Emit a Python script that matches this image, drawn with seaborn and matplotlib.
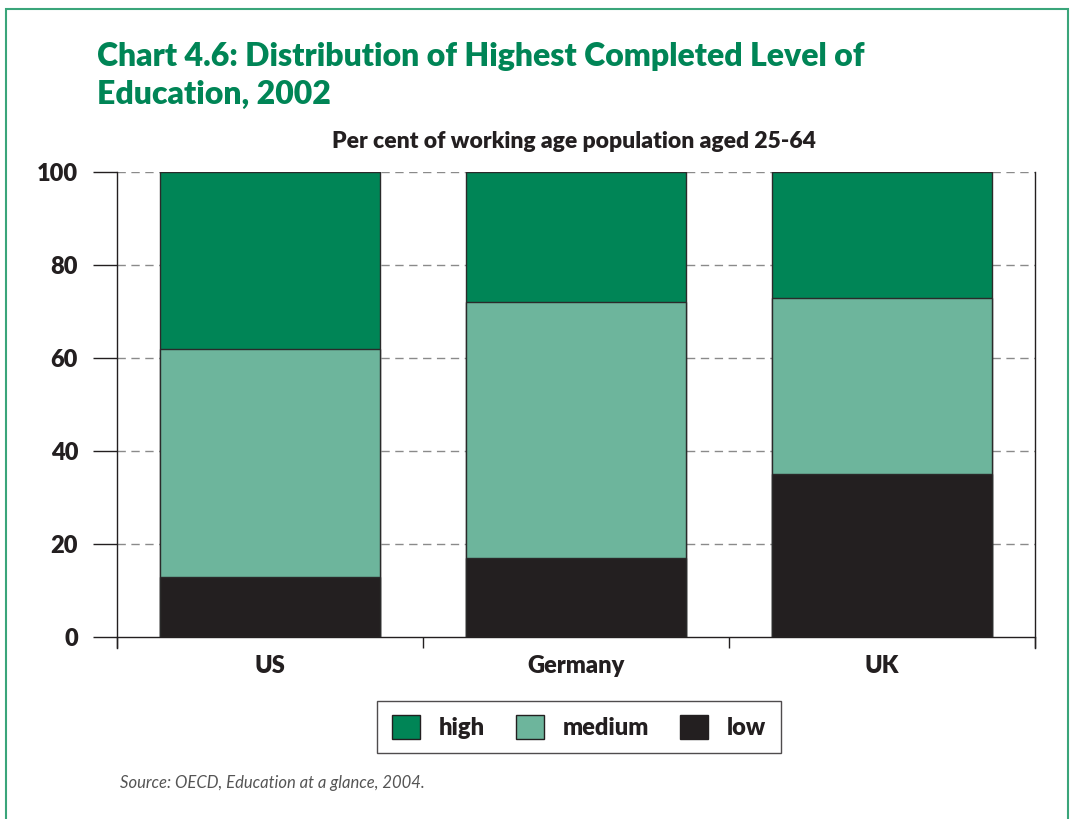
import matplotlib
matplotlib.use("Agg")
import matplotlib.pyplot as plt
from matplotlib.patches import Rectangle, Patch
import seaborn as sns
import pandas as pd
import numpy as np

countries = ["US", "Germany", "UK"]
low = [13, 17, 35]
medium = [49, 55, 38]
high = [38, 28, 27]
levels = ["high", "medium", "low"]
colors = {"high": "#008556", "medium": "#6db59c", "low": "#231f20"}

sns.set_theme(style="white")
FONT = ["Lato", "DejaVu Sans"]
plt.rcParams["font.family"] = FONT
W = 800

fig = plt.figure(figsize=(10.71, 8.19), dpi=100)
ax = fig.add_axes([117/1071, 1-637/819, (1035-117)/1071, (637-172)/819])

cum_low = np.array(low)
cum_med = cum_low + np.array(medium)
cum_high = cum_med + np.array(high)
df = pd.DataFrame({"country": countries, "low": cum_low, "medium": cum_med, "high": cum_high})

for lvl in ["high", "medium", "low"]:
    sns.barplot(data=df, x="country", y=lvl, color=colors[lvl], saturation=1,
                width=0.72, edgecolor="#2a2a2a", linewidth=1.0, ax=ax, zorder=3)

ax.set_xlim(-0.5, 2.5)
ax.set_ylim(0, 100)
ax.set_yticks([0, 20, 40, 60, 80, 100])
ax.set_yticklabels(["0", "20", "40", "60", "80", "100"], fontsize=17, fontweight=W,
                   color="#231f20")
ax.set_xticks([0, 1, 2])
ax.set_xticklabels(countries, fontsize=17, fontweight=W, color="#231f20")
ax.set_xticks([-0.5, 0.5, 1.5, 2.5], minor=True)
ax.tick_params(axis="x", which="major", length=0, pad=13)
ax.tick_params(axis="x", which="minor", length=8, width=1.0, color="#231f20", direction="out", bottom=True)
ax.tick_params(axis="y", which="major", length=17, width=1.0, color="#231f20", direction="out", pad=11, left=True)
ax.set_xlabel("")
ax.set_ylabel("")

for y in [20, 40, 60, 80, 100]:
    ax.axhline(y, color="#8a8a8a", linestyle=(0, (6, 4)), linewidth=1.0, zorder=1)

for s in ["left", "bottom", "right"]:
    ax.spines[s].set_visible(True)
    ax.spines[s].set_color("#231f20")
    ax.spines[s].set_linewidth(1.0)
ax.spines["top"].set_visible(False)

ax.spines["left"].set_bounds(-2.4, 100)
ax.spines["right"].set_bounds(-2.4, 100)

# outer green frame
fig.patches.append(Rectangle((6/1071, -0.05), (1068-6)/1071, 1-9/819+0.05,
                             transform=fig.transFigure, fill=False,
                             edgecolor="#3aa57a", linewidth=1.5))

fig.text(97/1071, 1-66/819, "Chart 4.6: Distribution of Highest Completed Level of",
         fontsize=23, fontweight=W, color="#008556", ha="left", va="baseline")
fig.text(97/1071, 1-104/819, "Education, 2002",
         fontsize=23, fontweight=W, color="#008556", ha="left", va="baseline")
fig.text(574/1071, 1-148/819, "Per cent of working age population aged 25-64",
         fontsize=16.5, fontweight=W, color="#231f20", ha="center", va="baseline")

handles = [Patch(facecolor=colors[l], edgecolor="#231f20", linewidth=1.0, label=l) for l in levels]
leg = fig.legend(handles=handles, loc="center", bbox_to_anchor=(579/1071, 1-727/819),
                 ncol=3, frameon=True, fancybox=False, edgecolor="#231f20",
                 prop={"family": FONT, "weight": W, "size": 17},
                 handlelength=1.2, handleheight=1.2, handletextpad=0.8, columnspacing=1.3,
                 borderpad=0.6, labelcolor="#231f20")
leg.get_frame().set_linewidth(1.0)

fig.text(120/1071, 1-788/819, "Source: OECD, Education at a glance, 2004.",
         fontsize=12, style="italic", color="#555555", ha="left", va="baseline")

fig.savefig("out.png", dpi=100)
